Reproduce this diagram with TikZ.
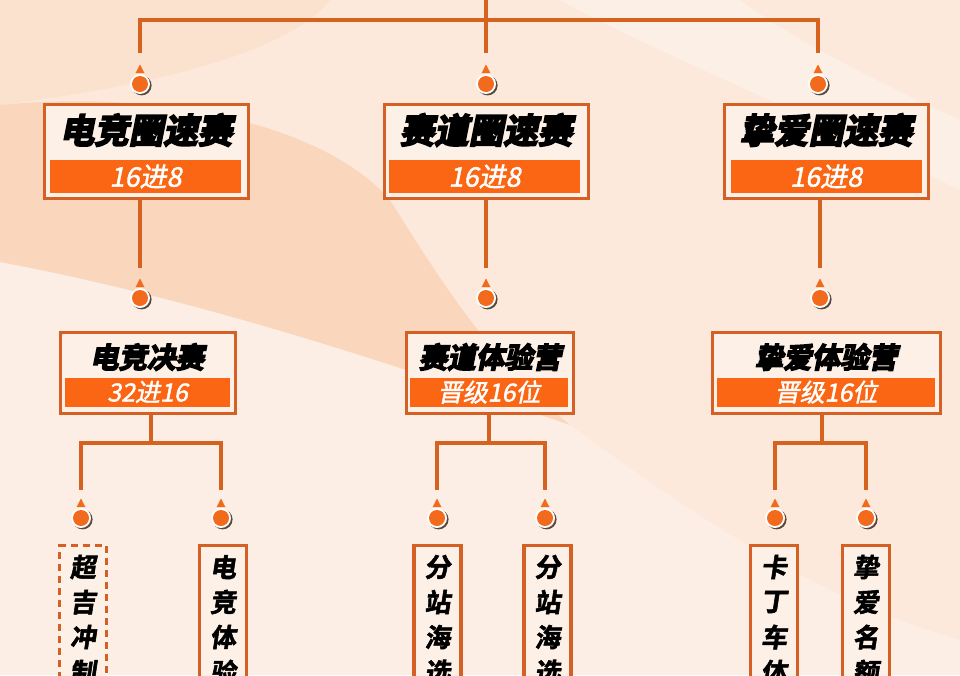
\documentclass[tikz,border=0pt]{standalone}
\usepackage{fontspec}
\newfontfamily\tfont{Noto Sans CJK SC Bold}[FakeSlant=0.2,FakeBold=5]
\newfontfamily\sfont{Noto Sans CJK SC}[FakeSlant=0.2,FakeBold=1.5]
\newfontfamily\vfont{Noto Sans CJK SC Bold}[FakeSlant=0.15,FakeBold=2]
\definecolor{bgbase}{HTML}{FCE9DB}
\definecolor{swoosh}{HTML}{F8CFAF}
\definecolor{boxedge}{HTML}{D46026}
\definecolor{boxfill}{HTML}{FDF0E6}
\definecolor{barfill}{HTML}{FA6614}
\definecolor{lineorange}{HTML}{D5621F}
\definecolor{pinorange}{HTML}{F26A1C}
\definecolor{pinshadow}{HTML}{3E2A20}
\newcommand\mkpin[3]{%
  \fill[pinshadow,opacity=0.85] (#2+1.6,#3+1.4) circle (10pt);
  \node[circle, fill=white, minimum size=20pt, inner sep=0pt] (#1) at (#2,#3) {};
  \fill[pinorange] (#1.center) circle (8pt);
  \fill[pinorange] ([shift={(-4.5pt,10.8pt)}]#1.center) -- ([shift={(4.5pt,10.8pt)}]#1.center) -- ([shift={(0pt,19.5pt)}]#1.center) -- cycle;
}
\newcommand\vcol[2]{%
  \foreach \ch [count=\i] in {#2} {\node[vch] at (#1,{567+35*(\i-1)}) {\ch};}
}
\begin{document}
\begin{tikzpicture}[x=1pt,y=-1pt,
  boxline/.style={draw=boxedge, line width=3.4pt, fill=boxfill, inner sep=0pt},
  bar/.style={fill=barfill, inner sep=0pt},
  conn/.style={draw=lineorange, line width=3.5pt},
  ttla/.style={font=\tfont\fontsize{34.5}{35}\selectfont, text=black, inner sep=0pt},
  ttlb/.style={font=\tfont\fontsize{28.5}{29}\selectfont, text=black, inner sep=0pt},
  suba/.style={font=\sfont\fontsize{27}{27}\selectfont, text=white, inner sep=0pt},
  subb/.style={font=\sfont\fontsize{25}{25}\selectfont, text=white, inner sep=0pt},
  vch/.style={font=\vfont\fontsize{26}{26}\selectfont, text=black, inner sep=0pt},
  colbox/.style={boxline, minimum width=47pt, minimum height=200pt, anchor=north},
]
\useasboundingbox (0,0) rectangle (960,675);
\clip (0,0) rectangle (960,675);
% background
\fill[bgbase] (0,0) rectangle (960,675);
\fill[swoosh,opacity=0.7] (0,105) .. controls (150,90) and (320,120) .. (390,200)
  .. controls (440,280) and (490,360) .. (570,425)
  .. controls (380,360) and (200,300) .. (0,262) -- cycle;
\fill[swoosh,opacity=0.25] (0,0) -- (330,0) .. controls (300,40) and (200,80) .. (0,105) -- cycle;
\fill[white,opacity=0.3] (560,0) .. controls (650,50) and (800,110) .. (960,190) -- (960,120) .. controls (850,70) and (780,30) .. (740,0) -- cycle;
\fill[white,opacity=0.25] (0,262) .. controls (200,300) and (380,360) .. (570,425) .. controls (700,520) and (820,600) .. (960,640) -- (960,675) -- (0,675) -- cycle;

% pins
\mkpin{p1}{140}{84}
\mkpin{p2}{486}{84}
\mkpin{p3}{818}{84}
\mkpin{q1}{140}{298}
\mkpin{q2}{486}{298}
\mkpin{q3}{820}{298}
\mkpin{r1}{81}{518}
\mkpin{r2}{221}{518}
\mkpin{r3}{437}{518}
\mkpin{r4}{545}{518}
\mkpin{r5}{775}{518}
\mkpin{r6}{866}{518}

% level 1 boxes
\node[boxline, minimum width=204pt, minimum height=94pt] (a1) at (146.5,151.5) {};
\node[boxline, minimum width=204pt, minimum height=94pt] (a2) at (486.5,151.5) {};
\node[boxline, minimum width=204pt, minimum height=94pt] (a3) at (826.5,151.5) {};
\node[bar, minimum width=191pt, minimum height=33pt] (a1b) at (145.5,176.5) {};
\node[bar, minimum width=191pt, minimum height=33pt] (a2b) at (484.5,176.5) {};
\node[bar, minimum width=191pt, minimum height=33pt] (a3b) at (826,176.5) {};
\node[ttla] at (146,130) {电竞圈速赛};
\node[ttla] at (486,130) {赛道圈速赛};
\node[ttla] at (826,130) {挚爱圈速赛};
\node[suba] at (a1b) {16进8};
\node[suba] at (a2b) {16进8};
\node[suba] at (a3b) {16进8};

% level 2 boxes
\node[boxline, minimum width=175pt, minimum height=81pt] (c1) at (148,373) {};
\node[boxline, minimum width=167pt, minimum height=81pt] (c2) at (490,373) {};
\node[boxline, minimum width=228pt, minimum height=81pt] (c3) at (826.5,373) {};
\node[bar, minimum width=165pt, minimum height=29pt] (c1b) at (147.5,392) {};
\node[bar, minimum width=158pt, minimum height=29pt] (c2b) at (489,392) {};
\node[bar, minimum width=218pt, minimum height=29pt] (c3b) at (826,392) {};
\node[ttlb] at (147,357) {电竞决赛};
\node[ttlb] at (490,357) {赛道体验营};
\node[ttlb] at (826,357) {挚爱体验营};
\node[subb] at (c1b) {32进16};
\node[subb] at (c2b) {晋级16位};
\node[subb] at (c3b) {晋级16位};

% level 3 boxes
\node[colbox, dash pattern=on 7pt off 5pt] (d1) at (83,544) {};
\node[colbox] (d2) at (223,544) {};
\node[colbox] (d3) at (437.5,544) {};
\node[colbox] (d4) at (547.5,544) {};
\node[colbox] (d5) at (774,544) {};
\node[colbox] (d6) at (866,544) {};
\vcol{83}{超,吉,冲,制}
\vcol{223}{电,竞,体,验}
\vcol{437.5}{分,站,海,选}
\vcol{547.5}{分,站,海,选}
\vcol{774}{卡,丁,车,体}
\vcol{866}{挚,爱,名,额}

% connectors
\coordinate (root) at (486,-3);
\coordinate (hub) at (486,20);
\draw[conn] (root) -- (hub);
\draw[conn] ([yshift=31pt]p1.center) |- (hub) -| ([yshift=31pt]p3.center);
\draw[conn] (hub) -- ([yshift=31pt]p2.center);
\draw[conn] (a1.south -| q1) -- ([yshift=30pt]q1.center);
\draw[conn] (a2.south -| q2) -- ([yshift=30pt]q2.center);
\draw[conn] (a3.south -| q3) -- ([yshift=30pt]q3.center);
\coordinate (j1) at (151,443);
\coordinate (j2) at (489,443);
\coordinate (j3) at (822,443);
\draw[conn] (c1.south -| j1) -- (j1);
\draw[conn] (c2.south -| j2) -- (j2);
\draw[conn] (c3.south -| j3) -- (j3);
\draw[conn] ([yshift=28pt]r1.center) |- (j1) -| ([yshift=28pt]r2.center);
\draw[conn] ([yshift=28pt]r3.center) |- (j2) -| ([yshift=28pt]r4.center);
\draw[conn] ([yshift=28pt]r5.center) |- (j3) -| ([yshift=28pt]r6.center);
\end{tikzpicture}
\end{document}
